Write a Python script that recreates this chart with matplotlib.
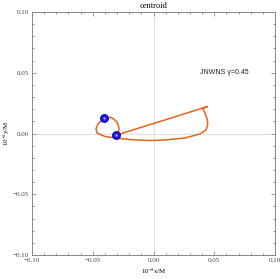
import matplotlib
matplotlib.use('Agg')
import matplotlib.pyplot as plt
from matplotlib.ticker import MultipleLocator, FuncFormatter

# centroid track (units of 10^-2 M)
track_x = [-0.0311, 0.0443, 0.0405, 0.0424, 0.0444, 0.0446, 0.0432, 0.0383, 0.0259,
           0.0095, -0.0029, -0.0152, -0.0276, -0.0399, -0.0465, -0.0473, -0.0457,
           -0.0424, -0.0383, -0.0350, -0.0321, -0.0296, -0.0284, -0.0288, -0.0309]
track_y = [-0.0015, 0.0221, 0.0207, 0.0169, 0.0111, 0.0070, 0.0029, -0.0004, -0.0037,
           -0.0053, -0.0058, -0.0053, -0.0041, -0.0025, 0.0004, 0.0041, 0.0078,
           0.0111, 0.0132, 0.0132, 0.0115, 0.0086, 0.0045, 0.0004, -0.0016]
mark_x = [-0.0407, -0.0311]
mark_y = [0.0125, -0.0015]

serif = 'Liberation Serif'
plt.rcParams['mathtext.fontset'] = 'custom'
plt.rcParams['mathtext.rm'] = serif
plt.rcParams['mathtext.it'] = serif

fig = plt.figure(figsize=(2.80, 2.79), dpi=100)
ax = fig.add_axes([32/280, 24/279, 243/280, 243/279])

ax.axhline(0, color='#e0e0e0', lw=0.8, zorder=0)
ax.axvline(0, color='#e0e0e0', lw=0.8, zorder=0)

ax.plot(track_x, track_y, color='#e8641b', lw=1.1, solid_joinstyle='round')
ax.plot(mark_x, mark_y, 'o', ms=5.5, mfc='#1f1fff', mec='#0000a0', mew=0.8)
ax.plot(mark_x, mark_y, 'o', ms=1.5, mfc='#c8c8ff', mec='none')

ax.set_xlim(-0.1, 0.1)
ax.set_ylim(-0.1, 0.1)

fmt = FuncFormatter(lambda v, p: ('%.2f' % v).replace('-', '\u2212'))
for a in (ax.xaxis, ax.yaxis):
    a.set_major_locator(MultipleLocator(0.05))
    a.set_minor_locator(MultipleLocator(0.01))
    a.set_major_formatter(fmt)

ax.tick_params(which='both', direction='in', top=True, right=True, color='#888888',
               width=0.6, labelsize=5, labelcolor='#444444', pad=2)
ax.tick_params(which='major', length=3)
ax.tick_params(which='minor', length=1.5)
for lab in ax.get_xticklabels() + ax.get_yticklabels():
    lab.set_family(serif)
for s in ax.spines.values():
    s.set_color('#888888')
    s.set_linewidth(0.7)

ax.set_title('centroid', fontsize=6, family=serif, pad=3)
ax.set_xlabel('10$^{\\mathrm{-2}}$x/M', fontsize=5, family=serif, labelpad=3)
ax.set_ylabel('10$^{\\mathrm{-2}}$y/M', fontsize=5, family=serif, labelpad=1)

ax.text(0.058, 0.05, 'JNWNS \u03b3=0.45', fontsize=5, family='Liberation Sans',
        color='#222222', ha='center', va='center')

fig.savefig('out.png', dpi=100)
